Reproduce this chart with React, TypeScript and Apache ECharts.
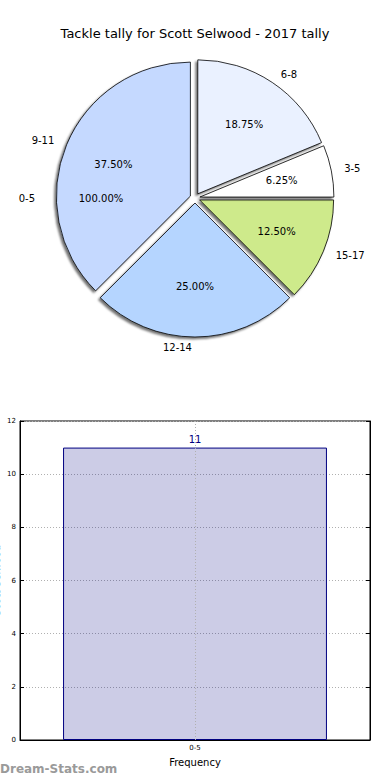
import React, { useEffect, useRef } from "react";
import * as echarts from "echarts";

const TITLE = "Tackle tally for Scott Selwood - 2017 tally";
const pieCategories = ["9-11", "12-14", "15-17", "3-5", "6-8"];
const pieValues = [6, 4, 2, 1, 3];
const pieColors = ["#c5d9ff", "#b5d5ff", "#ceea8b", "#ffffff", "#eaf1ff"];
const fullCategory = "0-5";
const fullValue = 11;
const barCategories = ["0-5"];
const barValues = [11];
const yTicks = { min: 0, max: 12, interval: 2 };
const yAxisName = "Scott Selwood";
const xAxisName = "Frequency";
const watermark = "Dream-Stats.com";

const FONT = "DejaVu Sans";
const CX = 195;
const CY = 198;
const R = 134;
const OFF = 5;

export default function App() {
  const ref = useRef<HTMLDivElement>(null);
  useEffect(() => {
    if (!ref.current) return;
    const chart = echarts.init(ref.current, null, { renderer: "svg" });
    const pieData = pieCategories.map((c, i) => ({
      name: c,
      value: pieValues[i],
      selected: true,
      itemStyle: { color: pieColors[i] },
    }));
    const transparentData = pieCategories.map((c, i) => ({
      name: c,
      value: pieValues[i],
      selected: true,
    }));
    const pct = (p: any) => Number(p.percent).toFixed(2) + "%";
    const clear = { color: "rgba(0,0,0,0)", borderWidth: 0 };
    chart.setOption({
      animation: false,
      textStyle: { fontFamily: FONT },
      title: {
        text: TITLE,
        left: "center",
        top: 22,
        textStyle: { fontFamily: FONT, fontSize: 13, fontWeight: "normal", color: "#000" },
      },
      graphic: [
        {
          type: "text",
          left: 0,
          top: 763,
          style: { text: watermark, fontFamily: FONT, fontSize: 12, fontWeight: "bold", fill: "#9a9a9a" },
        },
      ],
      grid: {
        left: 20,
        right: 20,
        top: 421,
        bottom: 40,
        show: true,
        borderColor: "#000",
        borderWidth: 1,
        backgroundColor: "#fff",
        containLabel: false,
        outerBoundsMode: "none",
      },
      xAxis: {
        type: "category",
        data: barCategories,
        name: xAxisName,
        nameLocation: "middle",
        nameGap: 17,
        nameMoveOverlap: false,
        nameTextStyle: { fontFamily: FONT, fontSize: 10, color: "#000" },
        axisLine: { lineStyle: { color: "#000" } },
        axisTick: { inside: true, alignWithLabel: true, length: 4, lineStyle: { color: "#000" } },
        axisLabel: { fontFamily: FONT, fontSize: 7, color: "#000", margin: 4 },
        splitLine: { show: false },
      },
      yAxis: [
        {
          type: "value",
          min: yTicks.min,
          max: yTicks.max,
          interval: yTicks.interval,
          name: yAxisName,
          nameLocation: "middle",
          nameGap: 19,
          nameRotate: 90,
          nameMoveOverlap: false,
          nameTextStyle: { fontFamily: FONT, fontSize: 10, color: "#000" },
          axisLine: { show: true, lineStyle: { color: "#000" } },
          axisTick: { show: true, inside: true, length: 4, lineStyle: { color: "#000" } },
          axisLabel: { fontFamily: FONT, fontSize: 7, color: "#000", margin: 4 },
          splitLine: { show: true, lineStyle: { color: "#b0b0b0", type: [1, 2], width: 1 } },
        },
        {
          type: "value",
          position: "right",
          min: yTicks.min,
          max: yTicks.max,
          interval: yTicks.interval,
          axisLine: { show: true, lineStyle: { color: "#000" } },
          axisTick: { show: true, inside: true, length: 4, lineStyle: { color: "#000" } },
          axisLabel: { show: false },
          splitLine: { show: false },
        },
      ],
      series: [
        {
          type: "bar",
          data: barValues,
          barWidth: "75.4%",
          itemStyle: { color: "rgba(0,0,128,0.2)", borderColor: "#000080", borderWidth: 1 },
          label: { show: true, position: "top", fontFamily: FONT, fontSize: 10, color: "#000080", distance: 3 },
          markLine: {
            silent: true,
            symbol: "none",
            label: { show: false },
            lineStyle: { color: "#b0b0b0", type: [1, 2], width: 1 },
            data: [{ xAxis: barCategories[0] }],
          },
        },
        {
          type: "pie",
          center: [CX, CY],
          radius: R,
          startAngle: 89.99,
          clockwise: false,
          avoidLabelOverlap: false,
          selectedMode: "multiple",
          selectedOffset: OFF,
          silent: true,
          z: 3,
          itemStyle: {
            borderColor: "#000",
            borderWidth: 0.8,
            shadowColor: "rgba(0,0,0,0.55)",
            shadowBlur: 2,
            shadowOffsetX: -2,
            shadowOffsetY: 2,
          },
          label: {
            show: true,
            position: "outside",
            formatter: "{b}",
            fontFamily: FONT,
            fontSize: 10,
            color: "#000",
            distanceToLabelLine: 3,
          },
          labelLine: { show: false, length: 10, length2: 0 },
          emphasis: { disabled: true },
          data: pieData,
        },
        {
          type: "pie",
          center: [CX, CY],
          radius: R * 1.2,
          startAngle: 89.99,
          clockwise: false,
          avoidLabelOverlap: false,
          selectedMode: "multiple",
          selectedOffset: OFF,
          silent: true,
          z: 4,
          itemStyle: clear,
          label: { show: true, position: "inside", formatter: pct, fontFamily: FONT, fontSize: 10, color: "#000" },
          labelLine: { show: false },
          emphasis: { disabled: true },
          data: transparentData,
        },
        {
          type: "pie",
          center: [CX, CY],
          radius: 147,
          startAngle: 0,
          clockwise: false,
          avoidLabelOverlap: false,
          silent: true,
          z: 1,
          itemStyle: clear,
          label: {
            show: true,
            position: "outside",
            formatter: "{b}",
            fontFamily: FONT,
            fontSize: 10,
            color: "#000",
            distanceToLabelLine: 3,
          },
          labelLine: { show: false, length: 10, length2: 0 },
          emphasis: { disabled: true },
          data: [{ name: fullCategory, value: fullValue }],
        },
        {
          type: "pie",
          center: [CX, CY],
          radius: 182,
          startAngle: 0,
          clockwise: false,
          avoidLabelOverlap: false,
          silent: true,
          z: 4,
          itemStyle: clear,
          label: { show: true, position: "inside", formatter: pct, fontFamily: FONT, fontSize: 10, color: "#000" },
          labelLine: { show: false },
          emphasis: { disabled: true },
          data: [{ name: fullCategory, value: fullValue }],
        },
      ],
    });
    return () => chart.dispose();
  }, []);
  return (
    <div
      ref={ref}
      style={{ position: "fixed", left: 0, top: 0, width: 390, height: 780, background: "#fff" }}
    />
  );
}
